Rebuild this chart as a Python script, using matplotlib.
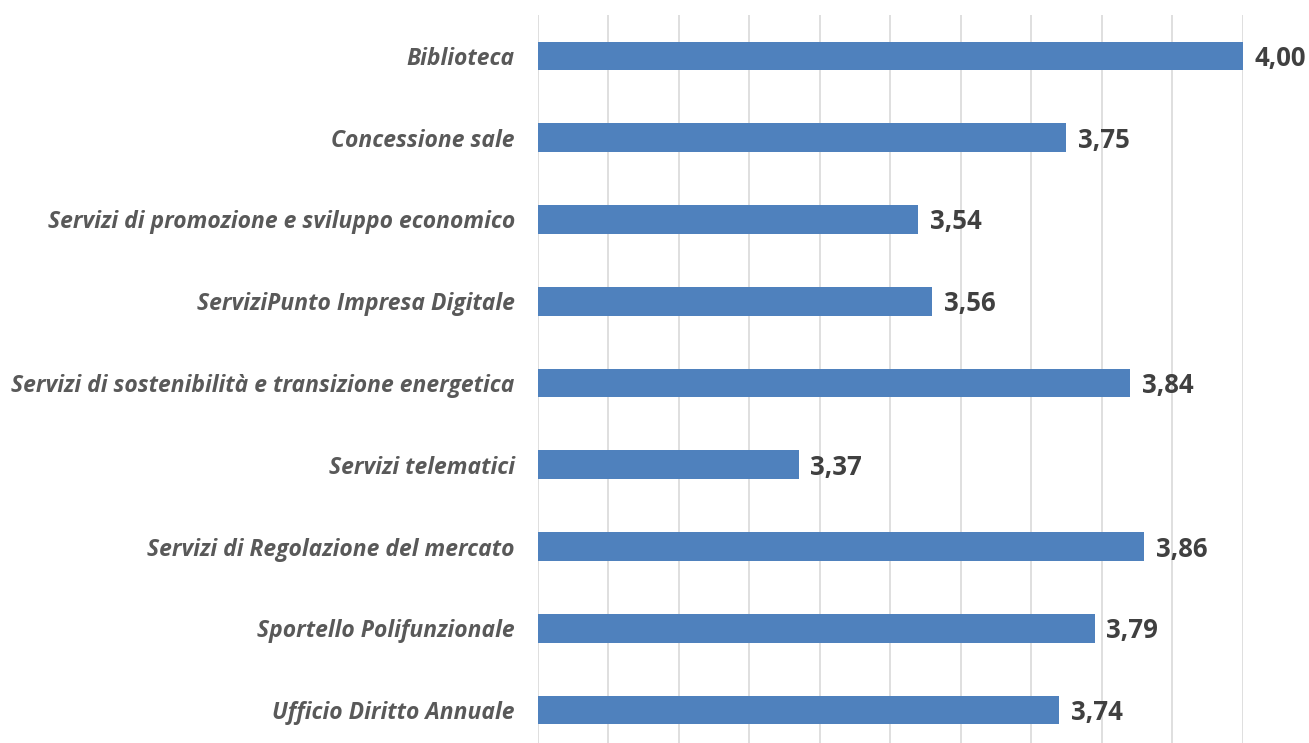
import matplotlib
matplotlib.use("Agg")
import matplotlib.pyplot as plt

categories = [
    "Biblioteca",
    "Concessione sale",
    "Servizi di promozione e sviluppo economico",
    "ServiziPunto Impresa Digitale",
    "Servizi di sostenibilità e transizione energetica",
    "Servizi telematici",
    "Servizi di Regolazione del mercato",
    "Sportello Polifunzionale",
    "Ufficio Diritto Annuale",
]
values = [4.00, 3.75, 3.54, 3.56, 3.84, 3.37, 3.86, 3.79, 3.74]
xmin, xmax = 3.0, 4.0
xticks = [3.0 + 0.1 * i for i in range(11)]

fig = plt.figure(figsize=(13.09, 7.43), dpi=100)
ax = fig.add_axes([0.4108, -0.0108, 0.5384, 0.9906])

ypos = list(range(len(categories)))
ax.barh(ypos, [v - xmin for v in values], left=xmin, height=0.35,
        color="#4F81BD", zorder=3)
ax.set_xlim(xmin, xmax)
ax.set_ylim(len(categories) - 0.5, -0.5)
ax.set_xticks(xticks)
ax.set_xticklabels([])
ax.tick_params(axis="x", length=0)
ax.grid(axis="x", color="#D9D9D9", linewidth=1.2, zorder=0)
ax.set_yticks(ypos)
ax.set_yticklabels(categories, fontsize=16.5, fontweight="bold", fontstyle="italic",
                   family="Open Sans", color="#595959")
ax.tick_params(axis="y", length=0, pad=16.5)
for s in ax.spines.values():
    s.set_visible(False)

for y, v in zip(ypos, values):
    ax.text(v + 0.017, y + 0.03, f"{v:.2f}".replace(".", ","), va="center", ha="left",
            fontsize=18.5, fontweight="bold", family="Open Sans", color="#404040",
            clip_on=False)

fig.savefig("out.png", dpi=100)
